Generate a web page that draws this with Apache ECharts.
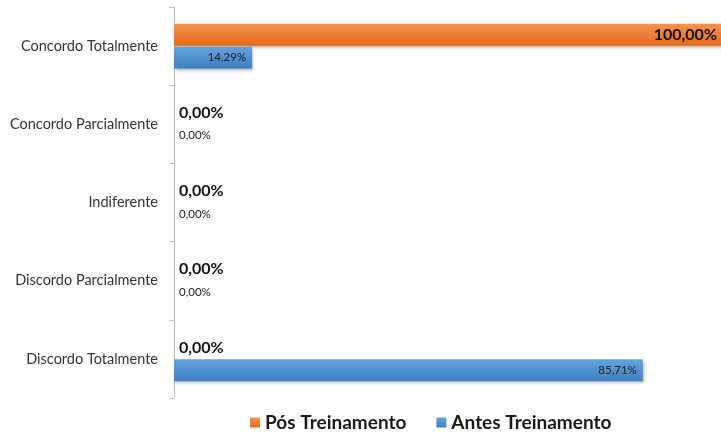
<!DOCTYPE html>
<html>
<head>
<meta charset="utf-8">
<script src="https://cdn.jsdelivr.net/npm/echarts@6/dist/echarts.min.js"></script>
<style>
  html, body { margin: 0; padding: 0; background: #fff; }
  #chart { width: 721px; height: 438px; }
</style>
</head>
<body>
<div id="chart"></div>
<script>
// categorias (de cima para baixo)
var categories = ['Concordo Totalmente', 'Concordo Parcialmente', 'Indiferente', 'Discordo Parcialmente', 'Discordo Totalmente']
var posTreinamento = [100, 0, 0, 0, 0]
var antesTreinamento = [14.29, 0, 0, 0, 85.71]

var chart = echarts.init(document.getElementById('chart'))

function fmt(v) {
  return v.toFixed(2).replace('.', ',') + '%'
}

// rótulo dentro da barra quando > 0, à direita do eixo quando zero
function withLabels(values, labelStyle, dist) {
  return values.map(function (v) {
    return {
      value: v,
      label: Object.assign({ position: v > 0 ? 'insideRight' : 'right', distance: v > 0 ? dist : 5 }, labelStyle)
    }
  })
}

var option = {
  animation: false,
  textStyle: { fontFamily: 'Lato' },
  grid: { left: 174, right: -4, top: 7, bottom: 40 },
  legend: {
    bottom: 1,
    left: 245,
    itemWidth: 10,
    itemHeight: 10,
    itemGap: 30,
    icon: 'rect',
    textStyle: { fontSize: 19, fontWeight: 'bold', color: '#1a1a1a', fontFamily: 'Lato' },
    data: ['Pós Treinamento', 'Antes Treinamento']
  },
  xAxis: { type: 'value', min: 0, max: 100, show: false },
  yAxis: {
    type: 'category',
    inverse: true,
    data: categories,
    axisLine: { lineStyle: { color: '#c0c0c0' } },
    axisTick: { show: true, length: 5, lineStyle: { color: '#c0c0c0' } },
    axisLabel: { fontSize: 14.5, color: '#333', margin: 16 }
  },
  series: [
    {
      name: 'Pós Treinamento',
      type: 'bar',
      barWidth: 22,
      barGap: '4%',
      itemStyle: {
        color: new echarts.graphic.LinearGradient(0, 0, 0, 1, [
          { offset: 0, color: '#f39450' },
          { offset: 1, color: '#e36c1b' }
        ]),
        shadowColor: 'rgba(0,0,0,0.3)', shadowBlur: 3, shadowOffsetY: 2, shadowOffsetX: 1
      },
      label: { show: true, formatter: function (p) { return fmt(p.value) } },
      data: withLabels(posTreinamento, { fontSize: 16, fontWeight: 'bold', color: '#111' }, 4)
    },
    {
      name: 'Antes Treinamento',
      type: 'bar',
      barWidth: 22,
      itemStyle: {
        color: new echarts.graphic.LinearGradient(0, 0, 0, 1, [
          { offset: 0, color: '#63a3de' },
          { offset: 1, color: '#3f80c4' }
        ]),
        shadowColor: 'rgba(0,0,0,0.3)', shadowBlur: 3, shadowOffsetY: 2, shadowOffsetX: 1
      },
      label: { show: true, formatter: function (p) { return fmt(p.value) } },
      data: withLabels(antesTreinamento, { fontSize: 11.5, color: '#222' }, 6)
    }
  ]
}
chart.setOption(option)
</script>
</body>
</html>
